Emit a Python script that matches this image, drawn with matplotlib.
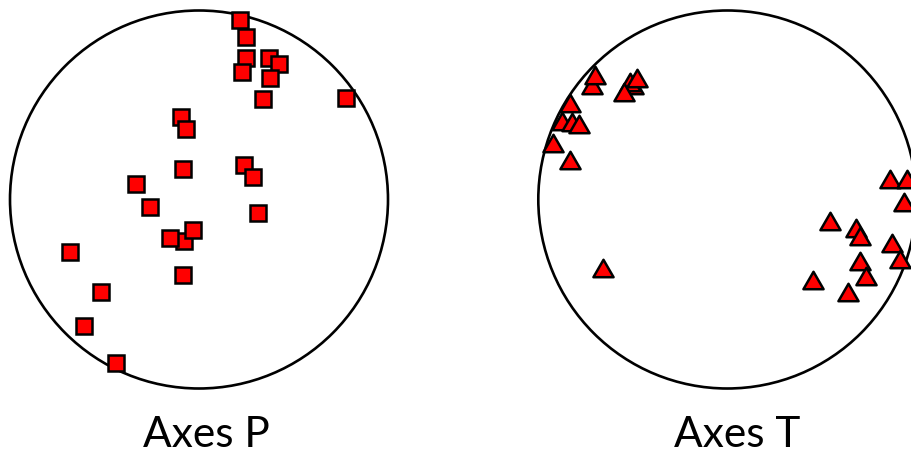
import matplotlib
matplotlib.use("Agg")
import matplotlib.pyplot as plt
from matplotlib.path import Path
from matplotlib.patches import Circle

# P axes (squares), projected coordinates in unit circle
p_x = [0.217, 0.247, 0.249, 0.229, 0.370, 0.425, 0.376, 0.340, 0.778,
       -0.095, -0.070, -0.085, 0.238, 0.284, -0.335, -0.258, 0.311,
       -0.078, -0.156, -0.033, -0.684, -0.086, -0.517, -0.607, -0.438]
p_y = [0.950, 0.862, 0.747, 0.676, 0.749, 0.715, 0.641, 0.532, 0.535,
       0.435, 0.371, 0.161, 0.180, 0.121, 0.082, -0.040, -0.074,
       -0.220, -0.206, -0.159, -0.279, -0.397, -0.489, -0.668, -0.863]

# T axes (triangles)
t_x = [-0.717, -0.700, -0.499, -0.515, -0.476, -0.545, -0.832, -0.876,
       -0.820, -0.783, -0.924, -0.832, -0.656, 0.861, 0.952, 0.935,
       0.543, 0.679, 0.702, 0.870, 0.914, 0.702, 0.734, 0.452, 0.640]
t_y = [0.606, 0.660, 0.606, 0.622, 0.641, 0.570, 0.509, 0.417,
       0.412, 0.399, 0.297, 0.209, -0.361, 0.108, 0.108, -0.015,
       -0.112, -0.149, -0.192, -0.232, -0.313, -0.325, -0.403, -0.426, -0.488]

labels = ["Axes P", "Axes T"]

W, H = 912, 454
fig = plt.figure(figsize=(W / 100, H / 100), dpi=100)

R = 189.0
centers = [(199.0, 199.5), (727.3, 199.5)]

tri = Path([(0, 0.866), (-1, -0.866), (1, -0.866), (0, 0.866)],
           [Path.MOVETO, Path.LINETO, Path.LINETO, Path.CLOSEPOLY])

axes = []
for (cx, cy) in centers:
    left = (cx - R) / W
    bottom = (H - (cy + R)) / H
    ax = fig.add_axes([left, bottom, 2 * R / W, 2 * R / H])
    ax.set_xlim(-1, 1)
    ax.set_ylim(-1, 1)
    ax.axis("off")
    ax.add_patch(Circle((0, 0), 1, fill=False, edgecolor="black", lw=1.9,
                        clip_on=False))
    axes.append(ax)

axes[0].plot(p_x, p_y, linestyle="none", marker="s", markersize=11.5,
             markerfacecolor="#ff0000", markeredgecolor="black",
             markeredgewidth=1.8, clip_on=False)
axes[1].plot(t_x, t_y, linestyle="none", marker=tri, markersize=14.5,
             markerfacecolor="#ff0000", markeredgecolor="black",
             markeredgewidth=1.8, clip_on=False)

label_pos = [(206, 446.7), (737.5, 446.7)]
for (lx, ly), lab in zip(label_pos, labels):
    fig.text(lx / W, 1 - ly / H, lab, ha="center", va="baseline",
             fontsize=30.5, family=["Lato", "DejaVu Sans"])

fig.savefig("out.png", dpi=100)
